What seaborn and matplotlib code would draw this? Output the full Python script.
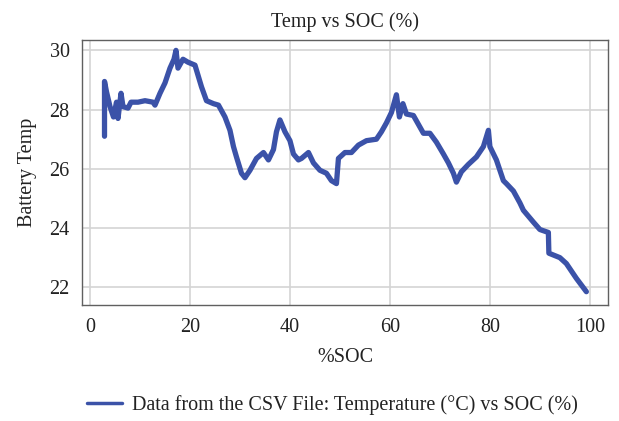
import numpy as np
import pandas as pd
import seaborn as sns
import matplotlib
matplotlib.use("Agg")
import matplotlib.pyplot as plt

# values
soc = [2.9, 2.9, 3.3, 4.0, 4.7, 5.3, 5.6, 6.2, 6.6, 7.6,
       8.2, 9.6, 11.0, 12.6, 13.0, 14.0, 15.0, 16.0, 16.8, 17.2,
       17.6, 18.6, 19.6, 21.0, 22.3, 23.3, 24.7, 25.7, 27.0, 28.0,
       28.7, 29.3, 30.3, 31.0, 32.0, 33.3, 34.7, 35.7, 36.7, 37.3,
       38.0, 39.0, 40.0, 40.7, 41.7, 42.3, 43.7, 44.7, 46.0, 47.3,
       48.3, 49.3, 49.7, 51.0, 52.3, 53.7, 55.3, 57.3, 58.3, 59.3,
       60.3, 61.3, 61.9, 62.6, 63.3, 64.7, 65.7, 66.7, 68.0, 69.3,
       70.7, 71.7, 72.7, 73.3, 74.3, 75.7, 77.3, 78.7, 79.7, 80.0,
       81.3, 82.7, 83.3, 84.7, 86.0, 86.7, 87.7, 88.7, 90.0, 91.7,
       91.8, 94.0, 95.3, 97.3, 99.3]
temp = [27.1, 28.95, 28.6, 28.1, 27.75, 28.25, 27.7, 28.55, 28.1, 28.05,
        28.25, 28.25, 28.3, 28.25, 28.15, 28.55, 28.9, 29.4, 29.7, 30.0,
        29.4, 29.7, 29.6, 29.5, 28.77, 28.3, 28.2, 28.15, 27.75, 27.3,
        26.75, 26.4, 25.85, 25.7, 25.95, 26.35, 26.55, 26.3, 26.65, 27.25,
        27.65, 27.25, 26.95, 26.5, 26.3, 26.35, 26.55, 26.2, 25.95, 25.85,
        25.6, 25.5, 26.35, 26.55, 26.55, 26.8, 26.95, 27.0, 27.25, 27.55,
        27.9, 28.5, 27.75, 28.2, 27.85, 27.8, 27.5, 27.2, 27.2, 26.9,
        26.5, 26.2, 25.85, 25.55, 25.9, 26.15, 26.4, 26.75, 27.3, 26.75,
        26.3, 25.6, 25.5, 25.25, 24.85, 24.6, 24.4, 24.2, 23.95, 23.85,
        23.15, 23.0, 22.8, 22.3, 21.85]

series_label = "Data from the CSV File: Temperature (\u00b0C) vs SOC (%)"
df = pd.DataFrame({"SOC": soc, "Temp": temp})

sns.set_style("white")
plt.rcParams['font.family'] = ['Liberation Serif', 'DejaVu Serif']
fs = 14.5

fig = plt.figure(figsize=(6.19, 4.21), dpi=100)
ax = fig.add_axes([0.1325, 0.2755, 0.8495, 0.6295])

line_color = "#3b52a8"
sns.lineplot(data=df, x="SOC", y="Temp", estimator=None, sort=False,
             color=line_color, linewidth=3.8, ax=ax, label=series_label,
             legend=False)

ax.set_xlim(-1.6, 103.6)
ax.set_ylim(21.4, 30.35)
ax.set_xticks([0, 20, 40, 60, 80, 100])
ax.set_yticks([22, 24, 26, 28, 30])
ax.grid(True, color="#d4d4d4", linewidth=1.2)
ax.set_axisbelow(True)
for sp in ax.spines.values():
    sp.set_color("#606060")
    sp.set_linewidth(1.0)
ax.tick_params(axis="both", direction="out", length=4, width=1,
               color="#606060", labelsize=fs, labelcolor="#222222", pad=5)

ax.set_title("Temp vs SOC (%)", fontsize=fs, pad=9, color="#222222")
ax.set_xlabel("%SOC", fontsize=fs, labelpad=8, color="#222222")
ax.set_ylabel("Battery Temp", fontsize=fs, labelpad=9, color="#222222")

handles, labels = ax.get_legend_handles_labels()
leg = fig.legend(handles, labels, loc="center", bbox_to_anchor=(0.537, 0.038),
                 frameon=False, fontsize=fs, handlelength=1.75,
                 handletextpad=0.5)
for lh in leg.get_lines():
    lh.set_linewidth(2.5)
for t in leg.get_texts():
    t.set_color("#222222")

fig.savefig("out.png", dpi=100)
